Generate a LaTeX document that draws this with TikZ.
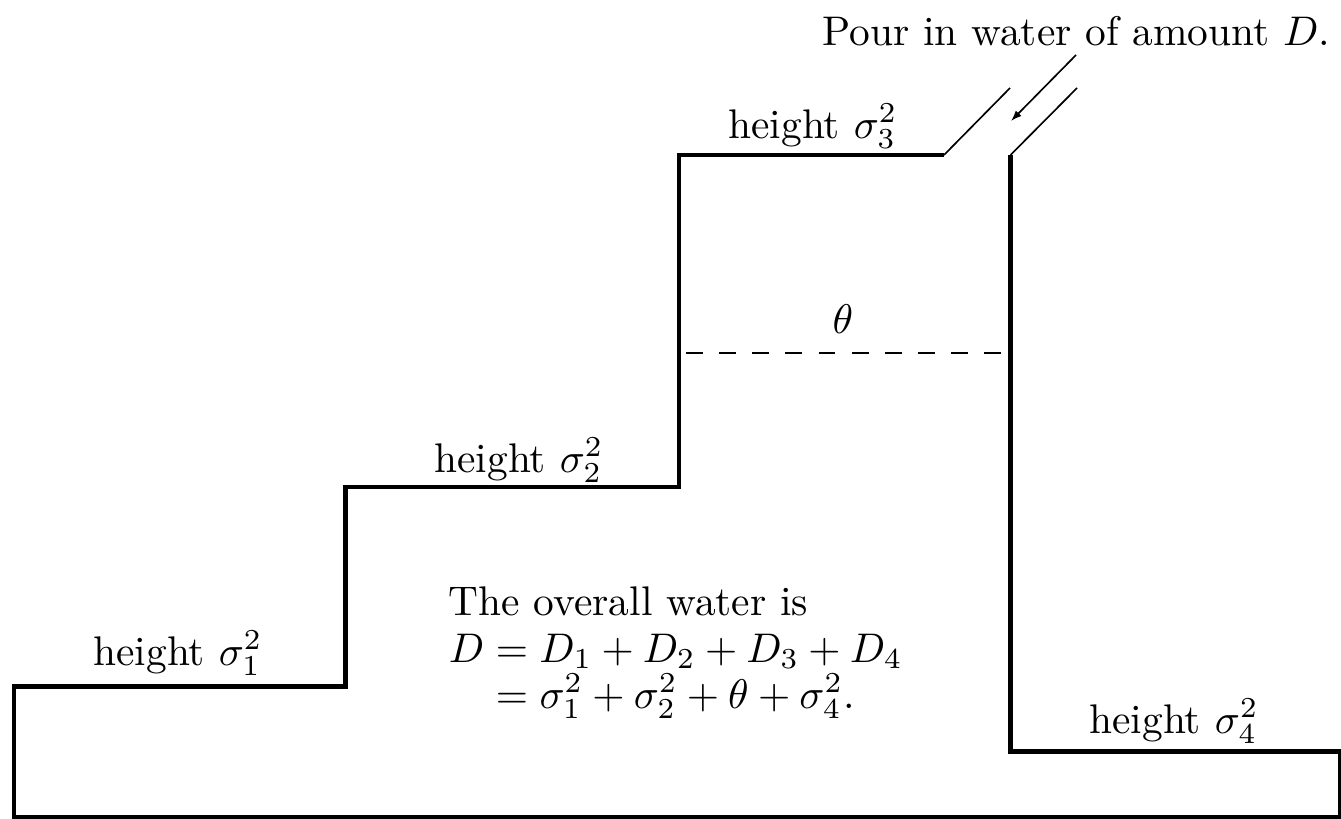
\documentclass[tikz,border=0pt]{standalone}
\usetikzlibrary{arrows.meta}
\begin{document}
\begin{tikzpicture}[x=0.2415pt,y=-0.2415pt,
  wall/.style={line width=1.2pt, line join=miter},
  pipe/.style={line width=0.4pt},
  level/.style={line width=0.45pt, dash pattern=on 4.1pt off 3.9pt},
  lbl/.style={anchor=base, inner sep=0pt},
  txt/.style={anchor=base west, inner sep=0pt}]
\useasboundingbox (0,0) rectangle (1341,818);
% outline coordinates
\coordinate (s3r) at (944,155);
\coordinate (s3l) at (679,155);
\coordinate (s2r) at (679,487);
\coordinate (s2l) at (345.5,487);
\coordinate (s1r) at (345.5,686.5);
\coordinate (s1l) at (14,686.5);
\coordinate (bl) at (14,817);
\coordinate (br) at (1340.5,817);
\coordinate (s4r) at (1340.5,751.5);
\coordinate (s4l) at (1010.5,751.5);
\coordinate (rt) at (1010.5,155);
\coordinate (p1) at (1010,88);
\coordinate (p2) at (1077,88);
\coordinate (afrom) at (1076,55);
\coordinate (ato) at (1011,121);
\coordinate (dl) at (686,353);
\coordinate (dr) at (1003,353);
\draw[wall] (s3r) -- (s3l) -- (s2r) -- (s2l) -- (s1r) -- (s1l) -- (bl) -- (br) -- (s4r) -- (s4l) -- (rt);
\draw[pipe] (s3r) -- (p1);
\draw[pipe] (rt) -- (p2);
\draw[pipe, -{Latex[length=2.6pt,width=1.9pt]}] (afrom) -- (ato);
\draw[level] (dl) -- (dr);
% labels
\node[lbl] (h1) at (178,665) {height $\sigma_1^2$};
\node[lbl] (h2) at (519,472) {height $\sigma_2^2$};
\node[lbl] (h3) at (813,138) {height $\sigma_3^2$};
\node[lbl] (h4) at (1174,733) {height $\sigma_4^2$};
\node[lbl] (th) at (843,333) {$\theta$};
\node[anchor=base east, inner sep=0pt] (pour) at (1331,45) {Pour in water of amount $D$.};
\node[txt] (t1) at (448,615) {The overall water is};
\node[txt] (t2) at (448,662) {$D = D_1 + D_2 + D_3 + D_4$};
\node[txt] (t3) at (495,708) {$= \sigma_1^2 + \sigma_2^2 + \theta + \sigma_4^2.$};
\end{tikzpicture}
\end{document}
